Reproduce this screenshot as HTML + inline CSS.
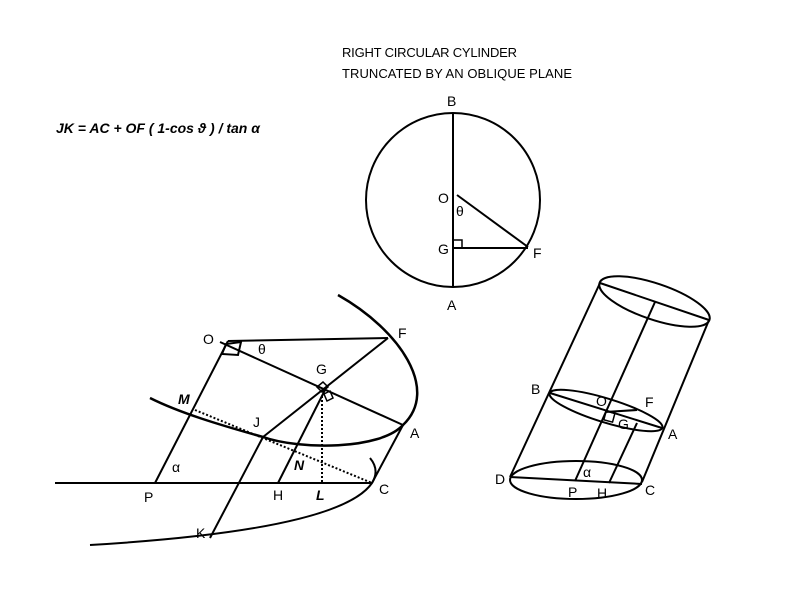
<!DOCTYPE html>
<html><head><style>
body{margin:0;background:#fff}
svg text{font-family:"Liberation Sans",sans-serif;font-size:14px;fill:#000}
</style></head><body>
<svg width="800" height="600" viewBox="0 0 800 600" xmlns="http://www.w3.org/2000/svg">
<text x="342" y="57" textLength="175" style="font-size:13px">RIGHT CIRCULAR CYLINDER</text>
<text x="342" y="78" textLength="230" style="font-size:13px">TRUNCATED BY AN OBLIQUE PLANE</text>
<text x="56" y="133" font-weight="bold" font-style="italic" style="font-size:14px">JK = AC + OF ( 1-cos ϑ ) / tan α</text>

<g fill="none" stroke="#000" stroke-width="2">
<circle cx="453" cy="200" r="87"/>
<line x1="453" y1="113" x2="453" y2="287"/>
<line x1="457" y1="195" x2="528" y2="247"/>
<line x1="453" y1="248" x2="528" y2="248"/>
<rect x="453" y="240" width="9" height="8" stroke-width="1.5"/>

<path d="M338,295 C400,330 440,390 403,425 C380,450 300,450 263,437 C220,425 180,413 150,398" stroke-width="2.5"/>
<path d="M370,458 Q380,470 372,483 Q340,530 90,545" stroke-width="2"/>
<line x1="55" y1="483" x2="372" y2="483"/>
<line x1="228" y1="341" x2="388" y2="338"/>
<line x1="220" y1="342" x2="403" y2="425"/>
<line x1="228" y1="341" x2="155" y2="483"/>
<line x1="388" y1="338" x2="263" y2="437"/>
<line x1="263" y1="437" x2="210" y2="538"/>
<line x1="325" y1="390" x2="278" y2="483"/>
<line x1="403" y1="425" x2="372" y2="483"/>
<line x1="195" y1="410" x2="372" y2="483" stroke-dasharray="2,2"/>
<line x1="322" y1="396" x2="322" y2="483" stroke-dasharray="2,2"/>
<polygon points="226,344 241,342 238,355 222,354"/>
<polygon points="317,387 323,382 328,387 322,392" stroke-width="1.5"/>
<polygon points="324,394 330,391 333,398 327,401" stroke-width="1.5"/>

<ellipse cx="654.5" cy="301.5" rx="58" ry="18" transform="rotate(18.7 654.5 301.5)"/>
<line x1="600" y1="283" x2="709" y2="320"/>
<ellipse cx="606" cy="410.5" rx="59" ry="12" transform="rotate(17 606 410.5)"/>
<line x1="550" y1="393" x2="662" y2="428"/>
<ellipse cx="576" cy="480" rx="66" ry="19"/>
<line x1="510" y1="477" x2="642" y2="484"/>
<line x1="600" y1="283" x2="510" y2="477"/>
<line x1="709" y1="320" x2="642" y2="482"/>
<line x1="655" y1="302" x2="575" y2="481"/>
<line x1="637" y1="423" x2="609" y2="483"/>
<line x1="605" y1="412" x2="637" y2="410"/>
<rect x="605" y="412" width="9" height="9" stroke-width="1.5" transform="rotate(15 609 416)"/>
</g>

<text x="447" y="106">B</text>
<text x="438" y="203">O</text>
<text x="456" y="216">θ</text>
<text x="438" y="254">G</text>
<text x="533" y="258">F</text>
<text x="447" y="310">A</text>

<text x="203" y="344">O</text>
<text x="258" y="354">θ</text>
<text x="398" y="338">F</text>
<text x="316" y="374">G</text>
<text x="178" y="404" font-weight="bold" font-style="italic">M</text>
<text x="253" y="427">J</text>
<text x="410" y="438">A</text>
<text x="294" y="470" font-weight="bold" font-style="italic">N</text>
<text x="172" y="472">α</text>
<text x="144" y="502">P</text>
<text x="273" y="500">H</text>
<text x="316" y="500" font-weight="bold" font-style="italic">L</text>
<text x="379" y="494">C</text>
<text x="196" y="538">K</text>

<text x="531" y="394">B</text>
<text x="596" y="406">O</text>
<text x="645" y="407">F</text>
<text x="618" y="429">G</text>
<text x="668" y="439">A</text>
<text x="495" y="484">D</text>
<text x="583" y="477">α</text>
<text x="568" y="497">P</text>
<text x="597" y="498">H</text>
<text x="645" y="495">C</text>
</svg>
</body></html>
